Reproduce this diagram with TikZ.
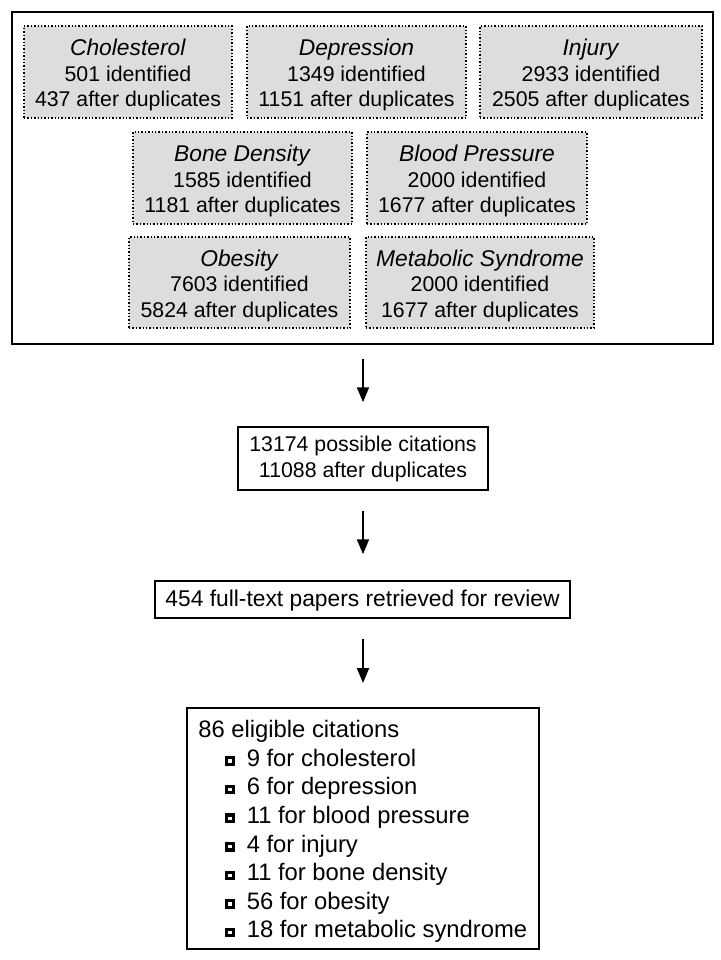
\documentclass[tikz,border=0pt]{standalone}
\usepackage{fontspec}
\setmainfont{Liberation Sans}
\usetikzlibrary{arrows.meta}
\definecolor{boxgray}{RGB}{221,221,221}
\newcommand\sqbul{\raisebox{0.5pt}{\rlap{\rule{9.5pt}{9.5pt}}\hspace{3.2pt}\raisebox{3.2pt}{\textcolor{white}{\rule{3.1pt}{3.1pt}}}\hspace{3.2pt}}}
\newcommand\ttl[1]{\rule{0pt}{23pt}{\fontsize{22.8}{26}\selectfont\textit{#1}}}
\tikzset{
  grp/.style={draw=black, dotted, line width=1.4pt, fill=boxgray, inner sep=0pt,
    align=center, font=\fontsize{21.3}{25.5}\selectfont},
  mainbox/.style={draw=black, line width=1.5pt, inner sep=0pt, align=center,
    font=\fontsize{22.8}{25.5}\selectfont},
  flow/.style={-{Triangle[length=15pt,width=12pt]}, line width=2pt}
}
\begin{document}
\begin{tikzpicture}[x=1pt,y=-1pt]
\useasboundingbox (0,0) rectangle (720,960);
\node[draw=black, line width=1.5pt, minimum width=701pt, minimum height=332pt, inner sep=0pt] (outer) at (362.5,178) {};
\node[grp, minimum width=208pt, minimum height=92pt] (chol) at (128,72) {\ttl{Cholesterol}\\501 identified\\437 after duplicates};
\node[grp, minimum width=219pt, minimum height=92pt] (dep) at (356.5,72) {\ttl{Depression}\\1349 identified\\1151 after duplicates};
\node[grp, minimum width=222pt, minimum height=92pt] (inj) at (591,72) {\ttl{Injury}\\2933 identified\\2505 after duplicates};
\node[grp, minimum width=219pt, minimum height=92pt] (bone) at (242.5,178) {\ttl{Bone Density}\\1585 identified\\1181 after duplicates};
\node[grp, minimum width=220pt, minimum height=92pt] (bp) at (477,178) {\ttl{Blood Pressure}\\2000 identified\\1677 after duplicates};
\node[grp, minimum width=221pt, minimum height=91pt] (obe) at (239.5,282.5) {\ttl{Obesity}\\7603 identified\\5824 after duplicates};
\node[grp, minimum width=228pt, minimum height=91pt] (met) at (480,282.5) {\ttl{Metabolic Syndrome}\\2000 identified\\1677 after duplicates};
\node[mainbox, minimum width=250pt, minimum height=63pt, font=\fontsize{21.3}{26}\selectfont] (cit) at (363,458.5) {13174 possible citations\\11088 after duplicates};
\node[mainbox, minimum width=415pt, minimum height=37pt] (full) at (362.5,599.5) {\rule{0pt}{19pt}454 full-text papers retrieved for review};
\node[mainbox, minimum width=352pt, minimum height=241pt, align=left, font=\fontsize{23.8}{28.6}\selectfont, inner xsep=11pt, anchor=north west] (elig) at (186,707) {\rule{0pt}{24pt}86 eligible citations\\
\hspace*{27pt}\sqbul\hspace{12pt}9 for cholesterol\\
\hspace*{27pt}\sqbul\hspace{12pt}6 for depression\\
\hspace*{27pt}\sqbul\hspace{12pt}11 for blood pressure\\
\hspace*{27pt}\sqbul\hspace{12pt}4 for injury\\
\hspace*{27pt}\sqbul\hspace{12pt}11 for bone density\\
\hspace*{27pt}\sqbul\hspace{12pt}56 for obesity\\
\hspace*{27pt}\sqbul\hspace{12pt}18 for metabolic syndrome};
\draw[flow, shorten <=14pt, shorten >=24pt] (outer.south -| cit.north) -- (cit.north);
\draw[flow, shorten <=20pt, shorten >=26pt] (cit.south) -- (cit.south |- full.north);
\draw[flow, shorten <=20pt, shorten >=24pt] (full.south -| cit.south) -- (cit.south |- elig.north);
\end{tikzpicture}
\end{document}
